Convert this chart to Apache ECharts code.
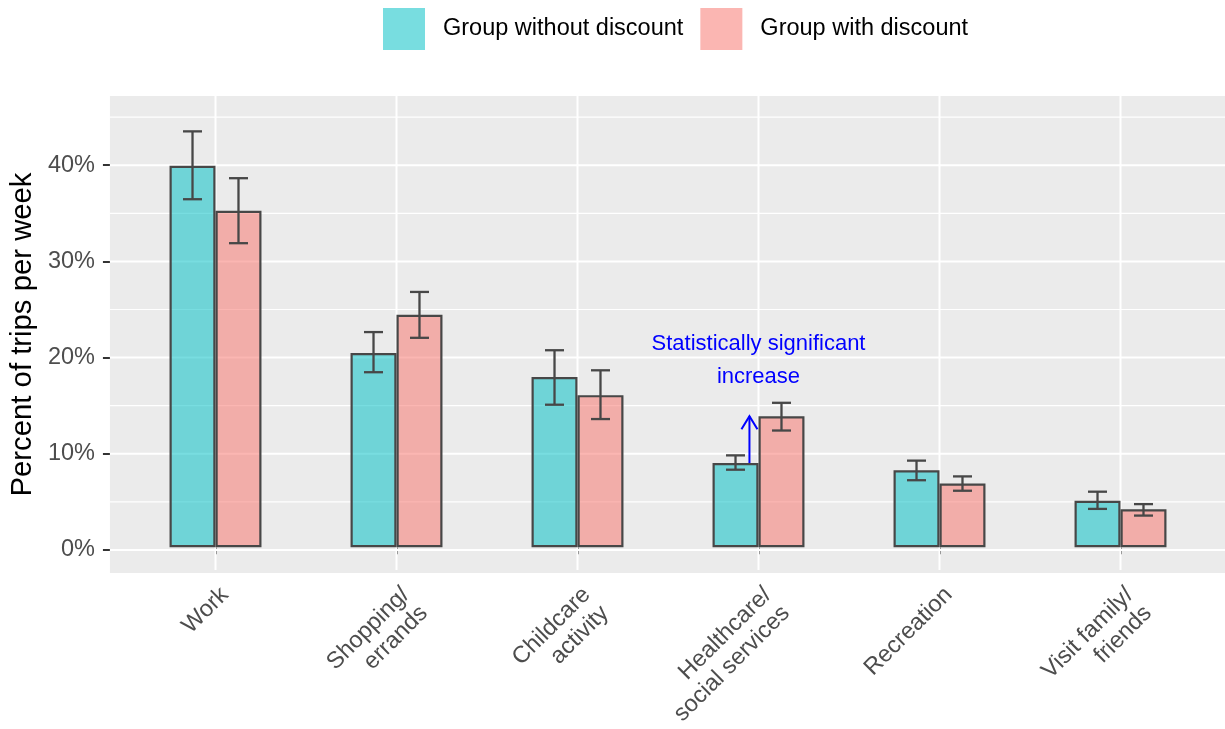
<!DOCTYPE html>
<html>
<head>
<meta charset="utf-8">
<title>Trip purposes by discount group</title>
<script src="https://cdn.jsdelivr.net/npm/echarts@6/dist/echarts.min.js"></script>
<style>
  html, body { margin: 0; padding: 0; background: #ffffff; }
  #chart { width: 1225px; height: 729px; }
</style>
</head>
<body>
<div id="chart"></div>
<script>
// Trip purposes (x categories)
const categories = ['Work', 'Shopping/\nerrands', 'Childcare\nactivity', 'Healthcare/\nsocial services', 'Recreation', 'Visit family/\nfriends'];

// Percent of weekly trips, group without discount (mean, lower CI, upper CI)
const noDiscount     = [39.9, 20.3, 17.8, 8.8, 8.05, 4.85];
const noDiscountLow  = [36.4, 18.3, 14.9, 8.1, 7.0, 4.0];
const noDiscountHigh = [43.5, 22.5, 20.6, 9.6, 9.05, 5.8];

// Percent of weekly trips, group with discount (mean, lower CI, upper CI)
const withDiscount     = [35.2, 24.3, 15.9, 13.7, 6.65, 3.95];
const withDiscountLow  = [31.8, 21.9, 13.4, 12.2, 5.9, 3.3];
const withDiscountHigh = [38.6, 26.7, 18.5, 15.1, 7.4, 4.5];

// Y axis ticks and panel range
const yMajorTicks = [0, 10, 20, 30, 40];
const yMinorTicks = [5, 15, 25, 35, 45];
const yMin = -2.4;
const yMax = 47.2;

// Annotation for the significant difference
const highlightIndex = 3;
const annotationText = 'Statistically significant\nincrease';
const annotationY = 19.5;

const FONT = '"Liberation Sans", Arial, sans-serif';
const OUTLINE = '#474747';
const BAR_FRAC = 0.254;   // each bar's share of the category band
const CAP_FRAC = 0.105;   // error bar cap width as share of the band

const chart = echarts.init(document.getElementById('chart'), null, { renderer: 'canvas' });

function errorBars(side) {
  return function (params, api) {
    const i = api.value(0);
    const band = api.size([1, 0])[0];
    const lo = api.coord([i, api.value(1)]);
    const hi = api.coord([i, api.value(2)]);
    const x = lo[0] + side * band * BAR_FRAC / 2;
    const cap = band * CAP_FRAC / 2;
    const st = { stroke: OUTLINE, lineWidth: 2.3 };
    return {
      type: 'group',
      children: [
        { type: 'line', shape: { x1: x, y1: hi[1], x2: x, y2: lo[1] }, style: st },
        { type: 'line', shape: { x1: x - cap, y1: hi[1], x2: x + cap, y2: hi[1] }, style: st },
        { type: 'line', shape: { x1: x - cap, y1: lo[1], x2: x + cap, y2: lo[1] }, style: st }
      ]
    };
  };
}

const option = {
  animation: false,
  textStyle: { fontFamily: FONT },
  legend: {
    data: ['Group without discount', 'Group with discount'],
    left: 383,
    top: 8,
    padding: 0,
    itemWidth: 42,
    itemHeight: 42,
    itemGap: 17,
    icon: 'rect',
    itemStyle: { borderWidth: 0 },
    textStyle: { fontSize: 23.5, color: '#000000', fontFamily: FONT, padding: [0, 0, 0, 13] }
  },
  grid: [
    { left: 107, top: 96, width: 1122, bottom: 156, show: true, backgroundColor: '#EBEBEB', borderWidth: 0 },
    { left: 125, top: 96, width: 1086, bottom: 156, show: false }
  ],
  xAxis: [
    { type: 'value', gridIndex: 0, min: 0, max: 1, show: false },
    {
      type: 'category', gridIndex: 1, data: categories,
      axisLine: { show: false },
      axisTick: { show: true, alignWithLabel: true, length: 7, lineStyle: { color: '#333333', width: 2 } },
      axisLabel: {
        rotate: 45, fontSize: 23.5, color: '#4D4D4D', fontFamily: FONT,
        margin: 12, align: 'right', verticalAlign: 'top', lineHeight: 26, interval: 0
      },
      splitLine: { show: false }
    }
  ],
  yAxis: [
    {
      type: 'value', gridIndex: 0, min: yMin, max: yMax,
      name: 'Percent of trips per week', nameLocation: 'middle', nameGap: 67,
      nameTextStyle: { fontSize: 29.3, color: '#000000', fontFamily: FONT },
      axisLine: { show: false },
      axisTick: { show: true, length: 7, customValues: yMajorTicks, lineStyle: { color: '#333333', width: 2 } },
      axisLabel: {
        customValues: yMajorTicks, fontSize: 23.5, color: '#4D4D4D', fontFamily: FONT, margin: 15,
        formatter: function (v) { return v + '%'; }
      },
      splitLine: { show: false }
    },
    { type: 'value', gridIndex: 1, min: yMin, max: yMax, show: false }
  ],
  series: [
    {
      // horizontal panel grid lines
      type: 'custom', xAxisIndex: 0, yAxisIndex: 0, z: 1, silent: true,
      data: yMajorTicks.map(v => [0, v, 2]).concat(yMinorTicks.map(v => [0, v, 1.1])),
      renderItem: function (params, api) {
        const a = api.coord([0, api.value(1)]);
        const b = api.coord([1, api.value(1)]);
        return { type: 'line', shape: { x1: a[0], y1: a[1], x2: b[0], y2: b[1] }, style: { stroke: '#ffffff', lineWidth: api.value(2) } };
      }
    },
    {
      // vertical panel grid lines at each category
      type: 'custom', xAxisIndex: 1, yAxisIndex: 1, z: 1, silent: true,
      data: categories.map((c, i) => [i, 0]),
      renderItem: function (params, api) {
        const p = api.coord([api.value(0), 0]);
        const cs = params.coordSys;
        return { type: 'line', shape: { x1: p[0], y1: cs.y, x2: p[0], y2: cs.y + cs.height }, style: { stroke: '#ffffff', lineWidth: 2 } };
      }
    },
    {
      name: 'Group without discount', type: 'bar', xAxisIndex: 1, yAxisIndex: 1, z: 2,
      data: noDiscount, barWidth: (BAR_FRAC * 100) + '%', barGap: '0%',
      itemStyle: { color: 'rgba(0,191,196,0.53)', borderColor: OUTLINE, borderWidth: 2.2 }
    },
    {
      name: 'Group with discount', type: 'bar', xAxisIndex: 1, yAxisIndex: 1, z: 2,
      data: withDiscount, barWidth: (BAR_FRAC * 100) + '%', barGap: '0%',
      itemStyle: { color: 'rgba(248,118,109,0.53)', borderColor: OUTLINE, borderWidth: 2.2 }
    },
    {
      type: 'custom', xAxisIndex: 1, yAxisIndex: 1, z: 3, silent: true,
      data: categories.map((c, i) => [i, noDiscountLow[i], noDiscountHigh[i]]),
      renderItem: errorBars(-1)
    },
    {
      type: 'custom', xAxisIndex: 1, yAxisIndex: 1, z: 3, silent: true,
      data: categories.map((c, i) => [i, withDiscountLow[i], withDiscountHigh[i]]),
      renderItem: errorBars(1)
    },
    {
      // arrow from one group's mean to the other's, plus the note above it
      type: 'custom', xAxisIndex: 1, yAxisIndex: 1, z: 4, silent: true,
      data: [[highlightIndex, noDiscount[highlightIndex], withDiscount[highlightIndex], annotationY]],
      renderItem: function (params, api) {
        const i = api.value(0);
        const band = api.size([1, 0])[0];
        const from = api.coord([i, api.value(1)]);
        const to = api.coord([i, api.value(2)]);
        const note = api.coord([i, api.value(3)]);
        const x = from[0] - band * 0.05;
        const st = { stroke: '#0000FF', lineWidth: 2, fill: null };
        return {
          type: 'group',
          children: [
            { type: 'line', shape: { x1: x, y1: from[1], x2: x, y2: to[1] }, style: st },
            { type: 'polyline', shape: { points: [[x - 8, to[1] + 13], [x, to[1]], [x + 8, to[1] + 13]] }, style: st },
            {
              type: 'text', x: note[0], y: note[1],
              style: {
                text: annotationText, fill: '#0000FF', fontSize: 22, fontFamily: FONT,
                lineHeight: 33, align: 'center', verticalAlign: 'middle'
              }
            }
          ]
        };
      }
    }
  ]
};

chart.setOption(option);
</script>
</body>
</html>
